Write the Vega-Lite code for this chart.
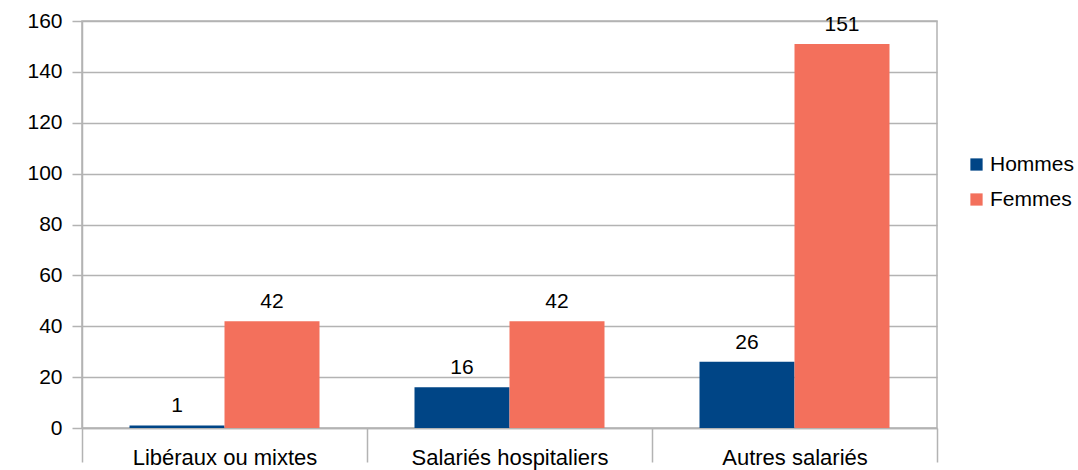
{
  "$schema": "https://vega.github.io/schema/vega-lite/v6.json",
  "width": 855,
  "height": 407,
  "autosize": "none",
  "padding": {"left": 82, "top": 21, "right": 141, "bottom": 42},
  "background": "white",
  "config": {
    "view": {"stroke": "#b3b3b3", "strokeWidth": 1.5},
    "axis": {"labelFontSize": 21, "labelColor": "#000000", "domainColor": "#b3b3b3", "tickColor": "#b3b3b3", "gridColor": "#b3b3b3", "domainWidth": 1.5, "tickWidth": 1.5, "gridWidth": 1.5}
  },
  "data": {
    "values": [
      {"cat": "Libéraux ou mixtes", "sexe": "Hommes", "n": 1},
      {"cat": "Libéraux ou mixtes", "sexe": "Femmes", "n": 42},
      {"cat": "Salariés hospitaliers", "sexe": "Hommes", "n": 16},
      {"cat": "Salariés hospitaliers", "sexe": "Femmes", "n": 42},
      {"cat": "Autres salariés", "sexe": "Hommes", "n": 26},
      {"cat": "Autres salariés", "sexe": "Femmes", "n": 151}
    ]
  },
  "encoding": {
    "x": {
      "field": "cat", "type": "nominal", "sort": null, "title": null,
      "scale": {"paddingInner": 0, "paddingOuter": 0},
      "axis": {"labelAngle": 0, "labelFontSize": 22, "labelLimit": 300, "tickBand": "extent", "tickSize": 34, "labelPadding": -5, "labelBaseline": "middle", "labelOffset": 0}
    },
    "xOffset": {
      "field": "sexe", "type": "nominal", "sort": ["Hommes", "Femmes"],
      "scale": {"paddingOuter": 0.5, "paddingInner": 0}
    },
    "y": {
      "field": "n", "type": "quantitative", "title": null,
      "scale": {"domain": [0, 160], "nice": false},
      "axis": {"values": [0, 20, 40, 60, 80, 100, 120, 140, 160], "tickSize": 10, "labelPadding": 10, "grid": true}
    }
  },
  "layer": [
    {
      "mark": {"type": "bar"},
      "encoding": {
        "color": {
          "field": "sexe", "type": "nominal", "sort": ["Hommes", "Femmes"],
          "scale": {"domain": ["Hommes", "Femmes"], "range": ["#004586", "#f3705c"]},
          "legend": {
            "title": null, "orient": "none", "legendX": 884, "legendY": 133,
            "symbolType": "square", "symbolSize": 150, "symbolStrokeWidth": 0,
            "labelFontSize": 21, "labelColor": "#000000",
            "rowPadding": 13, "labelOffset": 3
          }
        }
      }
    },
    {
      "mark": {"type": "text", "baseline": "bottom", "dy": -9, "fontSize": 21, "color": "#000000"},
      "encoding": {"text": {"field": "n", "type": "quantitative"}}
    }
  ]
}
